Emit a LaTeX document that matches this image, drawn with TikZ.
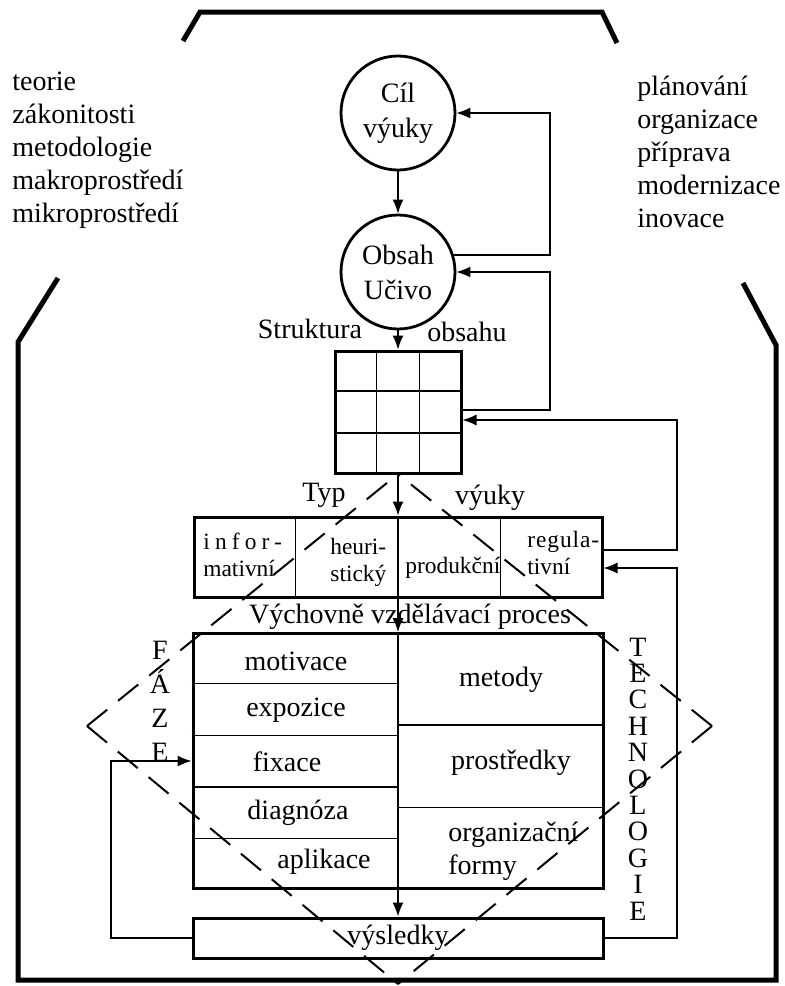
\documentclass[tikz,border=0pt]{standalone}
\usepackage{fontspec}
\setmainfont{Liberation Serif}
\usetikzlibrary{arrows.meta, calc}

\begin{document}
\begin{tikzpicture}[
        x=0.5pt, y=-0.5pt,
        >={Latex[length=7pt,width=5.5pt]},
        every node/.style={font=\fontsize{14}{16.5}\selectfont, inner sep=0pt},
        frameline/.style={line width=2.5pt},
        ring/.style={circle, draw, line width=1.4pt, minimum size=57pt, align=center, font=\fontsize{14}{17.5}\selectfont},
        box/.style={rectangle, draw, line width=1.5pt},
        cell/.style={anchor=west, align=left, font=\fontsize{11.7}{13.5}\selectfont},
        divider/.style={line width=0.7pt},
        arrow/.style={->, line width=0.7pt},
        feedback/.style={->, line width=0.6pt},
        phaseline/.style={line width=1pt, dash pattern=on 13pt off 7pt},
        stack/.style={align=center}
    ]
        \useasboundingbox (0,0) rectangle (785,986);

        \draw[frameline] (183,41) -- (200,12) -- (602,12) -- (617,43);
        \draw[frameline] (58,278) -- (18,342) -- (18,980) -- (776,980) -- (776,345) -- (743,283);

        \node[anchor=west, align=left] (teorie) at (12,150) {teorie\\zákonitosti\\metodologie\\makroprostředí\\mikroprostředí};
        \node[anchor=west, align=left] (planovani) at (637,152) {plánování\\organizace\\příprava\\modernizace\\inovace};

        \node[ring] (cil) at (398,113) {Cíl\\výuky};
        \node[ring] (obsah) at (398,272) {Obsah\\Učivo};
        \node[box, minimum width=63pt, minimum height=61pt] (grid) at (398,412) {};
        \node[box, minimum width=204pt, minimum height=40pt] (typ) at (398,557) {};
        \node[box, minimum width=205pt, minimum height=127.5pt] (proces) at (398,761) {};
        \node[box, minimum width=205pt, minimum height=20pt] (vysl) at (398,938) {výsledky};

        \node (struktura) at (310,329) {Struktura};
        \node (obsahu) at (467,332) {obsahu};
        \node (typlabel) at (324,495) {Typ};
        \node (vyuky) at (490,498) {výuky};
        \node (vvp) at (410,617) {Výchovně vzdělávací proces};

        \node[cell] (infor) at (203,555) {{\addfontfeature{LetterSpace=22}infor-}\\mativní};
        \node[cell] (heuri) at (330,562) {heuri-\\stický};
        \node[cell] (produkcni) at (405,568) {produkční};
        \node[cell] (regula) at (527,553) {{\addfontfeature{LetterSpace=4}regula-}\\tivní};

        \node (motivace) at (296,661) {motivace};
        \node (expozice) at (296,710) {expozice};
        \node (fixace) at (287,762) {fixace};
        \node (diagnoza) at (298,813) {diagnóza};
        \node (aplikace) at (324,862) {aplikace};
        \node (metody) at (501,680) {metody};
        \node (prostredky) at (511,763) {prostředky};
        \node[anchor=west, align=left] (orgformy) at (448,851) {organizační\\formy};

        \node[stack, font=\fontsize{14}{17}\selectfont] (faze) at (160,701) {F\\Á\\Z\\E};
        \node[stack, font=\fontsize{14}{13.2}\selectfont] (technologie) at (638,779) {T\\E\\C\\H\\N\\O\\L\\O\\G\\I\\E};

        \foreach \f in {0.333,0.667} {
            \draw[divider] ($(grid.north west)!\f!(grid.north east)$) -- ($(grid.south west)!\f!(grid.south east)$);
            \draw[divider] ($(grid.north west)!\f!(grid.south west)$) -- ($(grid.north east)!\f!(grid.south east)$);
        }
        \foreach \f in {0.25,0.5,0.75}
            \draw[divider] ($(typ.north west)!\f!(typ.north east)$) -- ($(typ.south west)!\f!(typ.south east)$);
        \draw[divider] (proces.north) -- (proces.south);
        \foreach \f in {0.2,0.4,0.6,0.8}
            \draw[divider] ($(proces.north west)!\f!(proces.south west)$) -- ($(proces.north)!\f!(proces.south)$);
        \foreach \f in {0.36,0.68}
            \draw[divider] ($(proces.north)!\f!(proces.south)$) -- ($(proces.north east)!\f!(proces.south east)$);

        \draw[arrow] (cil) -- (obsah);
        \draw[arrow] (obsah) -- (grid);
        \draw[arrow] (grid) -- (typ);
        \draw[arrow] (typ) -- (proces);
        \draw[arrow] (proces) -- (vysl);

        \coordinate (loopa) at (550,0);
        \coordinate (loopb) at (677,0);
        \coordinate (loopc) at (111,0);
        \coordinate (gridout) at ([yshift=1pt]grid.east);
        \coordinate (gridin) at ([yshift=-4pt]grid.east);
        \coordinate (typout) at ([yshift=3.5pt]typ.east);
        \coordinate (typin) at ([yshift=-5.5pt]typ.east);

        \draw[feedback] (obsah.17) -| (loopa |- cil.east) -- (cil.east);
        \draw[feedback] (gridout) -| (loopa |- obsah.east) -- (obsah.east);
        \draw[feedback] (typout) -| (loopb |- gridin) -- (gridin);
        \draw[feedback] (vysl.east) -| (loopb |- typin) -- (typin);
        \draw[feedback] (vysl.west) -| (loopc |- proces.west) -- (proces.west);

        \coordinate (dtop) at (398,474);
        \coordinate (dbot) at (398,984);
        \coordinate (dleft) at (87,726);
        \coordinate (dright) at (712,726);
        \foreach \tip in {dtop,dbot} {
            \draw[phaseline] (dleft) -- (\tip);
            \draw[phaseline] (dright) -- (\tip);
        }
    \end{tikzpicture}
\end{document}
